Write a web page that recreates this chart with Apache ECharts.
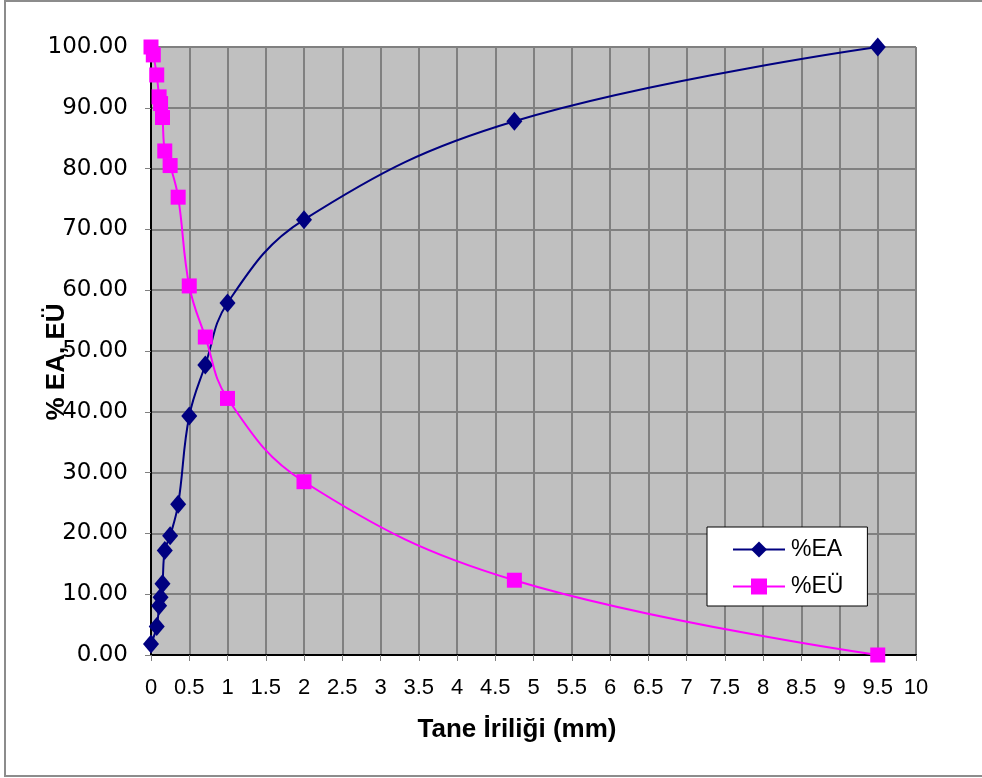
<!DOCTYPE html>
<html>
<head>
<meta charset="utf-8">
<script src="https://cdn.jsdelivr.net/npm/echarts@6/dist/echarts.min.js"></script>
<style>
  html, body { margin: 0; padding: 0; background: #ffffff; }
  #chart { width: 982px; height: 778px; }
</style>
</head>
<body>
<div id="chart"></div>
<script>
// Sieve sizes (mm) and cumulative percentages
const sieveSizesEA = [0, 0.075, 0.106, 0.125, 0.15, 0.18, 0.25, 0.355, 0.5, 0.71, 1.0, 2.0, 4.75, 9.5];
const percentEA = [1.8, 4.7, 8.1, 9.5, 11.7, 17.2, 19.6, 24.8, 39.3, 47.7, 57.9, 71.6, 87.8, 100];

const sieveSizesEU = [0, 0.03, 0.075, 0.106, 0.125, 0.15, 0.18, 0.25, 0.355, 0.5, 0.71, 1.0, 2.0, 4.75, 9.5];
const percentEU = [100, 98.7, 95.4, 91.8, 90.7, 88.4, 82.9, 80.5, 75.3, 60.7, 52.3, 42.2, 28.5, 12.3, 0];

const seriesNames = ['%EA', '%EÜ'];
const xAxisTitle = 'Tane İriliği (mm)';
const yAxisTitle = '% EA, EÜ';

const pairs = (xs, ys) => xs.map((x, i) => [x, ys[i]]);

const chart = echarts.init(document.getElementById('chart'), null, { renderer: 'canvas' });

chart.setOption({
  backgroundColor: '#ffffff',
  animation: false,
  graphic: [
    {
      type: 'rect',
      shape: { x: 5, y: 1, width: 1000, height: 775 },
      style: { fill: 'none', stroke: '#8c8c8c', lineWidth: 2 },
      z: -10
    },
    {
      type: 'text',
      x: 57, y: 362,
      rotation: Math.PI / 2,
      style: {
        text: yAxisTitle,
        fill: '#000',
        font: 'bold 26px "Liberation Sans", Arial, sans-serif',
        textAlign: 'center',
        textVerticalAlign: 'middle'
      },
      z: 10
    },
    {
      type: 'text',
      x: 517, y: 730,
      style: {
        text: xAxisTitle,
        fill: '#000',
        font: 'bold 26px "Liberation Sans", Arial, sans-serif',
        textAlign: 'center',
        textVerticalAlign: 'middle'
      }
    }
  ],
  grid: {
    left: 151, top: 47, right: 66, bottom: 123,
    show: true,
    backgroundColor: '#c0c0c0',
    borderWidth: 0,
    containLabel: false
  },
  legend: {
    orient: 'vertical',
    left: 707, top: 527,
    backgroundColor: '#ffffff',
    borderColor: '#000000',
    borderWidth: 1,
    padding: [11, 24, 8, 25],
    itemWidth: 52,
    itemHeight: 20,
    itemGap: 14,
    textStyle: { fontSize: 23, color: '#000', fontFamily: '"Liberation Sans", Arial, sans-serif', padding: [0, 0, 0, 1] },
    data: seriesNames
  },
  xAxis: {
    type: 'value',
    min: 0, max: 10, interval: 0.5,
    axisLine: { show: true, onZero: false, lineStyle: { color: '#000', width: 2 } },
    axisTick: { show: true, length: 6, lineStyle: { color: '#808080', width: 1 } },
    axisLabel: { fontSize: 22, color: '#000', margin: 22, fontFamily: '"Liberation Sans", Arial, sans-serif' },
    splitLine: { show: true, lineStyle: { color: '#808080', width: 2 } }
  },
  yAxis: {
    type: 'value',
    min: 0, max: 100, interval: 10,
    axisLine: { show: true, onZero: false, lineStyle: { color: '#000', width: 2 } },
    axisTick: { show: true, length: 6, lineStyle: { color: '#808080', width: 1 } },
    axisLabel: {
      fontSize: 23, color: '#000', margin: 23,
      fontFamily: '"DejaVu Sans", sans-serif',
      formatter: v => v.toFixed(2)
    },
    splitLine: { show: true, lineStyle: { color: '#808080', width: 2 } }
  },
  series: [
    {
      name: seriesNames[0],
      type: 'line',
      data: pairs(sieveSizesEA, percentEA),
      smooth: 0.4,
      clip: false,
      symbol: 'diamond',
      symbolSize: [16, 19],
      itemStyle: { color: '#000080' },
      lineStyle: { color: '#000080', width: 2 },
      z: 3
    },
    {
      name: seriesNames[1],
      type: 'line',
      data: pairs(sieveSizesEU, percentEU),
      smooth: 0.4,
      clip: false,
      symbol: 'rect',
      symbolSize: 15,
      itemStyle: { color: '#ff00ff' },
      lineStyle: { color: '#ff00ff', width: 2 },
      z: 4
    }
  ]
});
</script>
</body>
</html>
